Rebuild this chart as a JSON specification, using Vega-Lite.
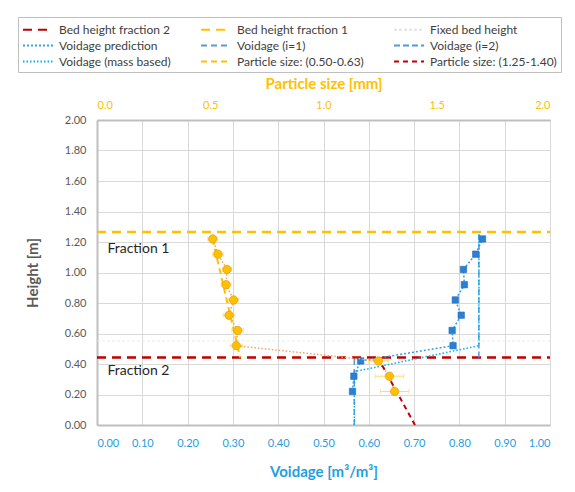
{
  "$schema": "https://vega.github.io/schema/vega-lite/v6.json",
  "width": 453,
  "height": 305,
  "autosize": {"type": "none"},
  "padding": {"left": 97, "top": 120, "right": 25, "bottom": 67},
  "background": "white",
  "config": {
    "font": "Lato",
    "view": {"stroke": "#d9d9d9", "strokeWidth": 1},
    "axis": {"gridColor": "#d9d9d9", "gridWidth": 1, "domainColor": "#bfbfbf", "domainWidth": 2, "ticks": false, "labelFontSize": 11, "titleFontSize": 15, "titleFontWeight": "bold", "labelFont": "Lato", "titleFont": "Lato"},
    "legend": {"orient": "none", "legendX": -79, "legendY": -103, "direction": "horizontal", "columns": 3, "strokeColor": "#bfbfbf", "padding": 4, "labelFontSize": 12, "labelColor": "#404040", "symbolType": "M-1,0L3,0", "symbolSize": 225, "symbolStrokeWidth": 2, "labelOffset": 20, "columnPadding": 26, "rowPadding": 1, "title": null}
  },
  "datasets": {
    "lines": [
      {"series": "Bed height fraction 2", "v": 0, "h": 0.442, "i": 0},
      {"series": "Bed height fraction 2", "v": 1, "h": 0.442, "i": 1},
      {"series": "Bed height fraction 1", "v": 0, "h": 1.265, "i": 0},
      {"series": "Bed height fraction 1", "v": 1, "h": 1.265, "i": 1},
      {"series": "Fixed bed height", "v": 0, "h": 0.551, "i": 0},
      {"series": "Fixed bed height", "v": 1, "h": 0.551, "i": 1},
      {"series": "Voidage (i=1)", "v": 0.568, "h": 0, "i": 0},
      {"series": "Voidage (i=1)", "v": 0.568, "h": 0.442, "i": 1},
      {"series": "Voidage (i=2)", "v": 0.843, "h": 0.442, "i": 0},
      {"series": "Voidage (i=2)", "v": 0.843, "h": 1.265, "i": 1},
      {"series": "Voidage (mass based)", "v": 0.568, "h": 0, "i": 0},
      {"series": "Voidage (mass based)", "v": 0.568, "h": 0.35, "i": 1},
      {"series": "Voidage (mass based)", "v": 0.843, "h": 0.52, "i": 2},
      {"series": "Voidage (mass based)", "v": 0.843, "h": 1.265, "i": 3},
      {"series": "Voidage prediction", "v": 0.564, "h": 0.22, "i": 0},
      {"series": "Voidage prediction", "v": 0.567, "h": 0.32, "i": 1},
      {"series": "Voidage prediction", "v": 0.582, "h": 0.42, "i": 2},
      {"series": "Voidage prediction", "v": 0.786, "h": 0.52, "i": 3},
      {"series": "Voidage prediction", "v": 0.784, "h": 0.62, "i": 4},
      {"series": "Voidage prediction", "v": 0.804, "h": 0.72, "i": 5},
      {"series": "Voidage prediction", "v": 0.791, "h": 0.82, "i": 6},
      {"series": "Voidage prediction", "v": 0.811, "h": 0.92, "i": 7},
      {"series": "Voidage prediction", "v": 0.809, "h": 1.02, "i": 8},
      {"series": "Voidage prediction", "v": 0.836, "h": 1.12, "i": 9},
      {"series": "Voidage prediction", "v": 0.851, "h": 1.22, "i": 10}
    ],
    "labels": [
      {"v": 0.023, "h": 1.155, "text": "Fraction 1"},
      {"v": 0.023, "h": 0.355, "text": "Fraction 2"}
    ],
    "trend": [
      {"series": "Particle size: (0.50-0.63)", "ps": 0.51, "h": 1.22, "i": 0},
      {"series": "Particle size: (0.50-0.63)", "ps": 0.632, "h": 0.442, "i": 1},
      {"series": "Particle size: (1.25-1.40)", "ps": 1.24, "h": 0.442, "i": 0},
      {"series": "Particle size: (1.25-1.40)", "ps": 1.404, "h": 0, "i": 1}
    ],
    "sizes": [
      {"ps": 0.511, "h": 1.22, "lo": 0.489, "hi": 0.533, "i": 0},
      {"ps": 0.534, "h": 1.12, "lo": 0.511, "hi": 0.557, "i": 1},
      {"ps": 0.574, "h": 1.02, "lo": 0.554, "hi": 0.594, "i": 2},
      {"ps": 0.570, "h": 0.92, "lo": 0.548, "hi": 0.592, "i": 3},
      {"ps": 0.603, "h": 0.82, "lo": 0.581, "hi": 0.625, "i": 4},
      {"ps": 0.583, "h": 0.72, "lo": 0.557, "hi": 0.609, "i": 5},
      {"ps": 0.621, "h": 0.62, "lo": 0.595, "hi": 0.647, "i": 6},
      {"ps": 0.615, "h": 0.52, "lo": 0.588, "hi": 0.642, "i": 7},
      {"ps": 1.242, "h": 0.42, "lo": 1.198, "hi": 1.286, "i": 8},
      {"ps": 1.291, "h": 0.32, "lo": 1.228, "hi": 1.354, "i": 9},
      {"ps": 1.314, "h": 0.22, "lo": 1.251, "hi": 1.377, "i": 10}
    ]
  },
  "layer": [
    {
      "layer": [
        {
          "data": {"name": "lines"},
          "transform": [{"filter": "datum.series === 'Fixed bed height'"}],
          "mark": {"type": "line", "strokeWidth": 0.8},
          "encoding": {
            "x": {"field": "v", "type": "quantitative", "scale": {"domain": [0, 1], "nice": false}, "axis": {"orient": "bottom", "title": "Voidage [m³/m³]", "values": [0, 0.1, 0.2, 0.3, 0.4, 0.5, 0.6, 0.7, 0.8, 0.9, 1], "format": ".2f", "labelColor": "#1f9ee0", "titleColor": "#1f9ee0", "labelPadding": 12, "titlePadding": 16, "grid": true}},
            "y": {"field": "h", "type": "quantitative", "scale": {"domain": [0, 2], "nice": false}, "axis": {"title": "Height [m]", "values": [0, 0.2, 0.4, 0.6, 0.8, 1, 1.2, 1.4, 1.6, 1.8, 2], "format": ".2f", "labelColor": "#595959", "titleColor": "#595959", "labelPadding": 11, "titlePadding": 24, "grid": true}},
            "detail": {"field": "series"},
            "order": {"field": "i", "type": "quantitative"},
            "color": {"field": "series", "type": "nominal", "scale": {"domain": ["Bed height fraction 2", "Bed height fraction 1", "Fixed bed height", "Voidage prediction", "Voidage (i=1)", "Voidage (i=2)", "Voidage (mass based)", "Particle size: (0.50-0.63)", "Particle size: (1.25-1.40)"], "range": ["#c00000", "#ffc000", "#e3e3e3", "#2f9fe6", "#5b9bd5", "#4f9bd9", "#00b0f0", "#ffc000", "#c00000"]}, "legend": {"orient": "none", "legendX": -79, "legendY": -103, "direction": "horizontal", "columns": 3, "title": null}},
            "strokeDash": {"field": "series", "type": "nominal", "scale": {"domain": ["Bed height fraction 2", "Bed height fraction 1", "Fixed bed height", "Voidage prediction", "Voidage (i=1)", "Voidage (i=2)", "Voidage (mass based)", "Particle size: (0.50-0.63)", "Particle size: (1.25-1.40)"], "range": [[9, 6], [9, 6], [3, 2], [2, 2], [6, 4], [6, 3], [1.5, 2], [6, 4], [5, 4]]}, "legend": {"orient": "none", "legendX": -79, "legendY": -103, "direction": "horizontal", "columns": 3, "title": null}}
          }
        },
        {
          "data": {"name": "lines"},
          "transform": [{"filter": "datum.series === 'Bed height fraction 2' || datum.series === 'Bed height fraction 1'"}],
          "mark": {"type": "line", "strokeWidth": 2.5},
          "encoding": {
            "x": {"field": "v", "type": "quantitative", "scale": {"domain": [0, 1], "nice": false}, "axis": {"orient": "bottom", "title": "Voidage [m³/m³]", "values": [0, 0.1, 0.2, 0.3, 0.4, 0.5, 0.6, 0.7, 0.8, 0.9, 1], "format": ".2f", "labelColor": "#1f9ee0", "titleColor": "#1f9ee0", "labelPadding": 12, "titlePadding": 16, "grid": true}},
            "y": {"field": "h", "type": "quantitative", "scale": {"domain": [0, 2], "nice": false}, "axis": {"title": "Height [m]", "values": [0, 0.2, 0.4, 0.6, 0.8, 1, 1.2, 1.4, 1.6, 1.8, 2], "format": ".2f", "labelColor": "#595959", "titleColor": "#595959", "labelPadding": 11, "titlePadding": 24, "grid": true}},
            "detail": {"field": "series"},
            "order": {"field": "i", "type": "quantitative"},
            "color": {"field": "series", "type": "nominal", "scale": {"domain": ["Bed height fraction 2", "Bed height fraction 1", "Fixed bed height", "Voidage prediction", "Voidage (i=1)", "Voidage (i=2)", "Voidage (mass based)", "Particle size: (0.50-0.63)", "Particle size: (1.25-1.40)"], "range": ["#c00000", "#ffc000", "#e3e3e3", "#2f9fe6", "#5b9bd5", "#4f9bd9", "#00b0f0", "#ffc000", "#c00000"]}, "legend": {"orient": "none", "legendX": -79, "legendY": -103, "direction": "horizontal", "columns": 3, "title": null}},
            "strokeDash": {"field": "series", "type": "nominal", "scale": {"domain": ["Bed height fraction 2", "Bed height fraction 1", "Fixed bed height", "Voidage prediction", "Voidage (i=1)", "Voidage (i=2)", "Voidage (mass based)", "Particle size: (0.50-0.63)", "Particle size: (1.25-1.40)"], "range": [[9, 6], [9, 6], [3, 2], [2, 2], [6, 4], [6, 3], [1.5, 2], [6, 4], [5, 4]]}, "legend": {"orient": "none", "legendX": -79, "legendY": -103, "direction": "horizontal", "columns": 3, "title": null}}
          }
        },
        {
          "data": {"name": "lines"},
          "transform": [{"filter": "datum.series !== 'Bed height fraction 2' && datum.series !== 'Bed height fraction 1' && datum.series !== 'Fixed bed height'"}],
          "mark": {"type": "line", "strokeWidth": 1.5},
          "encoding": {
            "x": {"field": "v", "type": "quantitative", "scale": {"domain": [0, 1], "nice": false}, "axis": {"orient": "bottom", "title": "Voidage [m³/m³]", "values": [0, 0.1, 0.2, 0.3, 0.4, 0.5, 0.6, 0.7, 0.8, 0.9, 1], "format": ".2f", "labelColor": "#1f9ee0", "titleColor": "#1f9ee0", "labelPadding": 12, "titlePadding": 16, "grid": true}},
            "y": {"field": "h", "type": "quantitative", "scale": {"domain": [0, 2], "nice": false}, "axis": {"title": "Height [m]", "values": [0, 0.2, 0.4, 0.6, 0.8, 1, 1.2, 1.4, 1.6, 1.8, 2], "format": ".2f", "labelColor": "#595959", "titleColor": "#595959", "labelPadding": 11, "titlePadding": 24, "grid": true}},
            "detail": {"field": "series"},
            "order": {"field": "i", "type": "quantitative"},
            "color": {"field": "series", "type": "nominal", "scale": {"domain": ["Bed height fraction 2", "Bed height fraction 1", "Fixed bed height", "Voidage prediction", "Voidage (i=1)", "Voidage (i=2)", "Voidage (mass based)", "Particle size: (0.50-0.63)", "Particle size: (1.25-1.40)"], "range": ["#c00000", "#ffc000", "#e3e3e3", "#2f9fe6", "#5b9bd5", "#4f9bd9", "#00b0f0", "#ffc000", "#c00000"]}, "legend": {"orient": "none", "legendX": -79, "legendY": -103, "direction": "horizontal", "columns": 3, "title": null}},
            "strokeDash": {"field": "series", "type": "nominal", "scale": {"domain": ["Bed height fraction 2", "Bed height fraction 1", "Fixed bed height", "Voidage prediction", "Voidage (i=1)", "Voidage (i=2)", "Voidage (mass based)", "Particle size: (0.50-0.63)", "Particle size: (1.25-1.40)"], "range": [[9, 6], [9, 6], [3, 2], [2, 2], [6, 4], [6, 3], [1.5, 2], [6, 4], [5, 4]]}, "legend": {"orient": "none", "legendX": -79, "legendY": -103, "direction": "horizontal", "columns": 3, "title": null}}
          }
        },
        {
          "data": {"name": "lines"},
          "transform": [{"filter": "datum.series === 'Voidage prediction'"}],
          "mark": {"type": "square", "filled": true, "size": 42, "color": "#2a80d4", "stroke": "#1f66b0", "strokeWidth": 0.5, "opacity": 1},
          "encoding": {
            "x": {"field": "v", "type": "quantitative", "scale": {"domain": [0, 1], "nice": false}, "axis": {"orient": "bottom", "title": "Voidage [m³/m³]", "values": [0, 0.1, 0.2, 0.3, 0.4, 0.5, 0.6, 0.7, 0.8, 0.9, 1], "format": ".2f", "labelColor": "#1f9ee0", "titleColor": "#1f9ee0", "labelPadding": 12, "titlePadding": 16, "grid": true}},
            "y": {"field": "h", "type": "quantitative", "scale": {"domain": [0, 2], "nice": false}, "axis": {"title": "Height [m]", "values": [0, 0.2, 0.4, 0.6, 0.8, 1, 1.2, 1.4, 1.6, 1.8, 2], "format": ".2f", "labelColor": "#595959", "titleColor": "#595959", "labelPadding": 11, "titlePadding": 24, "grid": true}}
          }
        },
        {
          "data": {"name": "labels"},
          "mark": {"type": "text", "align": "left", "baseline": "middle", "fontSize": 14, "color": "#262626", "font": "Lato"},
          "encoding": {
            "x": {"field": "v", "type": "quantitative", "scale": {"domain": [0, 1], "nice": false}, "axis": {"orient": "bottom", "title": "Voidage [m³/m³]", "values": [0, 0.1, 0.2, 0.3, 0.4, 0.5, 0.6, 0.7, 0.8, 0.9, 1], "format": ".2f", "labelColor": "#1f9ee0", "titleColor": "#1f9ee0", "labelPadding": 12, "titlePadding": 16, "grid": true}},
            "y": {"field": "h", "type": "quantitative", "scale": {"domain": [0, 2], "nice": false}, "axis": {"title": "Height [m]", "values": [0, 0.2, 0.4, 0.6, 0.8, 1, 1.2, 1.4, 1.6, 1.8, 2], "format": ".2f", "labelColor": "#595959", "titleColor": "#595959", "labelPadding": 11, "titlePadding": 24, "grid": true}},
            "text": {"field": "text"}
          }
        }
      ]
    },
    {
      "layer": [
        {
          "data": {"name": "sizes"},
          "mark": {"type": "errorbar", "ticks": {"size": 5}, "color": "#ffd966", "thickness": 1},
          "encoding": {
            "x": {"field": "lo", "type": "quantitative", "scale": {"domain": [0, 2], "nice": false}, "axis": {"orient": "top", "title": "Particle size [mm]", "values": [0, 0.5, 1, 1.5, 2], "format": ".1f", "labelColor": "#ffc000", "titleColor": "#ffc000", "labelPadding": 10, "titlePadding": 8, "grid": false}},
            "x2": {"field": "hi"},
            "y": {"field": "h", "type": "quantitative", "scale": {"domain": [0, 2], "nice": false}, "axis": {"title": "Height [m]", "values": [0, 0.2, 0.4, 0.6, 0.8, 1, 1.2, 1.4, 1.6, 1.8, 2], "format": ".2f", "labelColor": "#595959", "titleColor": "#595959", "labelPadding": 11, "titlePadding": 24, "grid": true}}
          }
        },
        {
          "data": {"name": "sizes"},
          "mark": {"type": "line", "color": "#f2a463", "strokeDash": [1.5, 2], "strokeWidth": 1.5},
          "encoding": {
            "x": {"field": "ps", "type": "quantitative", "scale": {"domain": [0, 2], "nice": false}, "axis": {"orient": "top", "title": "Particle size [mm]", "values": [0, 0.5, 1, 1.5, 2], "format": ".1f", "labelColor": "#ffc000", "titleColor": "#ffc000", "labelPadding": 10, "titlePadding": 8, "grid": false}},
            "y": {"field": "h", "type": "quantitative", "scale": {"domain": [0, 2], "nice": false}, "axis": {"title": "Height [m]", "values": [0, 0.2, 0.4, 0.6, 0.8, 1, 1.2, 1.4, 1.6, 1.8, 2], "format": ".2f", "labelColor": "#595959", "titleColor": "#595959", "labelPadding": 11, "titlePadding": 24, "grid": true}},
            "order": {"field": "i", "type": "quantitative"}
          }
        },
        {
          "data": {"name": "trend"},
          "mark": {"type": "line", "strokeWidth": 2},
          "encoding": {
            "x": {"field": "ps", "type": "quantitative", "scale": {"domain": [0, 2], "nice": false}, "axis": {"orient": "top", "title": "Particle size [mm]", "values": [0, 0.5, 1, 1.5, 2], "format": ".1f", "labelColor": "#ffc000", "titleColor": "#ffc000", "labelPadding": 10, "titlePadding": 8, "grid": false}},
            "y": {"field": "h", "type": "quantitative", "scale": {"domain": [0, 2], "nice": false}, "axis": {"title": "Height [m]", "values": [0, 0.2, 0.4, 0.6, 0.8, 1, 1.2, 1.4, 1.6, 1.8, 2], "format": ".2f", "labelColor": "#595959", "titleColor": "#595959", "labelPadding": 11, "titlePadding": 24, "grid": true}},
            "detail": {"field": "series"},
            "order": {"field": "i", "type": "quantitative"},
            "color": {"field": "series", "type": "nominal", "scale": {"domain": ["Bed height fraction 2", "Bed height fraction 1", "Fixed bed height", "Voidage prediction", "Voidage (i=1)", "Voidage (i=2)", "Voidage (mass based)", "Particle size: (0.50-0.63)", "Particle size: (1.25-1.40)"], "range": ["#c00000", "#ffc000", "#e3e3e3", "#2f9fe6", "#5b9bd5", "#4f9bd9", "#00b0f0", "#ffc000", "#c00000"]}, "legend": {"orient": "none", "legendX": -79, "legendY": -103, "direction": "horizontal", "columns": 3, "title": null}},
            "strokeDash": {"field": "series", "type": "nominal", "scale": {"domain": ["Bed height fraction 2", "Bed height fraction 1", "Fixed bed height", "Voidage prediction", "Voidage (i=1)", "Voidage (i=2)", "Voidage (mass based)", "Particle size: (0.50-0.63)", "Particle size: (1.25-1.40)"], "range": [[9, 6], [9, 6], [3, 2], [2, 2], [6, 4], [6, 3], [1.5, 2], [6, 4], [5, 4]]}, "legend": {"orient": "none", "legendX": -79, "legendY": -103, "direction": "horizontal", "columns": 3, "title": null}}
          }
        },
        {
          "data": {"name": "sizes"},
          "mark": {"type": "circle", "size": 70, "color": "#ffc000", "stroke": "#e39a1a", "strokeWidth": 0.7, "opacity": 1},
          "encoding": {
            "x": {"field": "ps", "type": "quantitative", "scale": {"domain": [0, 2], "nice": false}, "axis": {"orient": "top", "title": "Particle size [mm]", "values": [0, 0.5, 1, 1.5, 2], "format": ".1f", "labelColor": "#ffc000", "titleColor": "#ffc000", "labelPadding": 10, "titlePadding": 8, "grid": false}},
            "y": {"field": "h", "type": "quantitative", "scale": {"domain": [0, 2], "nice": false}, "axis": {"title": "Height [m]", "values": [0, 0.2, 0.4, 0.6, 0.8, 1, 1.2, 1.4, 1.6, 1.8, 2], "format": ".2f", "labelColor": "#595959", "titleColor": "#595959", "labelPadding": 11, "titlePadding": 24, "grid": true}}
          }
        }
      ]
    }
  ],
  "resolve": {"scale": {"x": "independent"}}
}
